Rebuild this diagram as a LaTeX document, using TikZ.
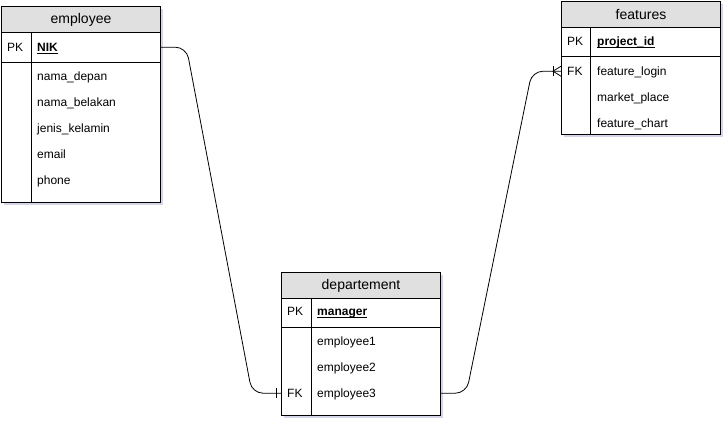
\documentclass[tikz,border=0pt]{standalone}
\usepackage{fontspec}
\setmainfont{Liberation Sans}
\usetikzlibrary{calc}
\usetikzlibrary{shadows}
\newcommand{\keyfield}[1]{$\underline{\smash{\hbox{\textbf{#1}}}}$}

\begin{document}
\begin{tikzpicture}[x=1pt,y=-1pt]
		\tikzset{tablebox/.style = {draw,fill=white,line width=1pt,inner sep=0,minimum width=159pt,
				drop shadow={shadow xshift=2.5pt,shadow yshift=-2.5pt,fill=blue!30!gray,opacity=0.25}}}
		\tikzset{tablehead/.style = {draw,fill=headgray,line width=1pt,inner sep=0,minimum width=159pt,
				minimum height=26pt,anchor=north west,font=\fontsize{14}{16}\selectfont}}
		\tikzset{tablerow/.style = {inner sep=0,minimum width=159pt,anchor=north west}}
		\tikzset{field/.style = {anchor=base west,inner sep=0,font=\fontsize{12}{14}\selectfont}}
		\tikzset{relation/.style = {line width=0.8pt,rounded corners=11pt}}
		\definecolor{headgray}{HTML}{E0E0E0}
		\useasboundingbox (0,0) rectangle (727,422);
		% employee
		\node[tablebox,minimum height=196pt,anchor=north west] (employee) at (1,6) {};
		\node[tablehead] (employee-head) at (1,6) {employee};
		\node[tablerow,minimum height=30pt] (employee-nik) at (1,32) {};
		\draw[line width=1pt] (employee-nik.south west) -- (employee-nik.south east);
		\draw[line width=1pt] ([xshift=30pt]employee-head.south west) -- ([xshift=30pt]employee.south west);
		\node[field] at (7,51.5) {PK};
		\node[field] at (37,51.5) {\keyfield{NIK}};
		\foreach \name [count=\i] in {nama\_depan,nama\_belakan,jenis\_kelamin,email,phone}
			\node[field] (employee-f\i) at (37,54.5+26*\i) {\name};
		% features
		\node[tablebox,minimum height=133pt,anchor=north west] (features) at (561,1) {};
		\node[tablehead] (features-head) at (561,1) {features};
		\node[tablerow,minimum height=28pt] (features-pid) at (561,28) {};
		\draw[line width=1pt] (features-pid.south west) -- (features-pid.south east);
		\draw[line width=1pt] ([xshift=29pt]features-head.south west) -- ([xshift=29pt]features.south west);
		\node[tablerow,minimum height=26pt] (features-login) at (561,58) {};
		\node[field] at (567,45.5) {PK};
		\node[field] at (597,45.5) {\keyfield{project\_id}};
		\node[field] at (567,75.5) {FK};
		\node[field] at (597,75.5) {feature\_login};
		\node[field] at (597,101.5) {market\_place};
		\node[field] at (597,127.5) {feature\_chart};
		% departement
		\node[tablebox,minimum height=143pt,anchor=north west] (departement) at (281,272) {};
		\node[tablehead] (departement-head) at (281,272) {departement};
		\node[tablerow,minimum height=29pt] (departement-mgr) at (281,298) {};
		\draw[line width=1pt] (departement-mgr.south west) -- (departement-mgr.south east);
		\draw[line width=1pt] ([xshift=30pt]departement-head.south west) -- ([xshift=30pt]departement.south west);
		\node[tablerow,minimum height=26pt] (departement-emp3) at (281,380) {};
		\node[field] at (287,315.5) {PK};
		\node[field] at (317,315.5) {\keyfield{manager}};
		\node[field] at (317,345.5) {employee1};
		\node[field] at (317,371.5) {employee2};
		\node[field] at (287,397.5) {FK};
		\node[field] at (317,397.5) {employee3};
		% relations
		\draw[relation] (employee-nik.east) -- ++(26,0)
			-- ($(departement-emp3.west)+(-29,0)$) -- (departement-emp3.west);
		\draw[line width=0.8pt] ($(departement-emp3.west)+(-5,-5)$) -- ++(0,10);
		\draw[relation] (departement-emp3.east) -- ++(26,0)
			-- ($(features-login.west)+(-29,0)$) -- (features-login.west);
		\draw[line width=0.8pt] ($(features-login.west)+(-8,-5)$) -- ++(0,10);
		\draw[line width=0.8pt] ($(features-login.west)+(0,-5)$) -- ++(-8,5) -- ++(8,5);
\end{tikzpicture}
\end{document}
